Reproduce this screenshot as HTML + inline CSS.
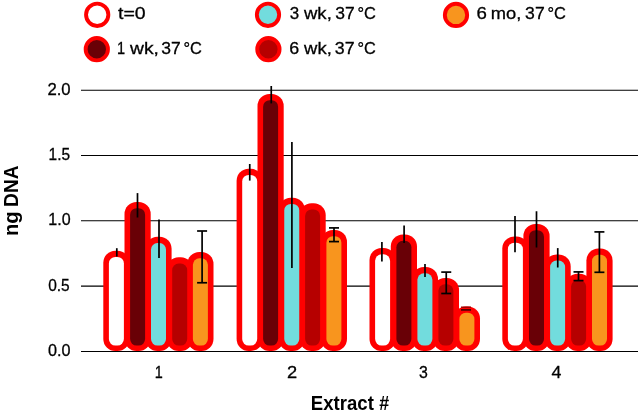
<!DOCTYPE html><html><head><meta charset="utf-8"><title>ng DNA by extract</title><style>
html,body{margin:0;padding:0;background:#fff;width:640px;height:416px;overflow:hidden}
svg{display:block;will-change:transform}
text{font-family:"Liberation Sans",Arial,sans-serif;fill:#000}
</style></head><body>
<svg width="640" height="416" viewBox="0 0 640 416">
<line x1="81" y1="90.3" x2="638" y2="90.3" stroke="#000" stroke-width="1.1"/>
<line x1="81" y1="155.5" x2="638" y2="155.5" stroke="#000" stroke-width="1.1"/>
<line x1="81" y1="220.7" x2="638" y2="220.7" stroke="#000" stroke-width="1.1"/>
<line x1="81" y1="286.1" x2="638" y2="286.1" stroke="#000" stroke-width="1.1"/>
<line x1="81" y1="351.5" x2="638" y2="351.5" stroke="#000" stroke-width="1.1"/>
<rect x="103.30" y="250.70" width="26.20" height="100.30" rx="12.0" ry="12.0" fill="#ff0000"/>
<rect x="124.50" y="202.00" width="26.20" height="149.00" rx="12.0" ry="12.0" fill="#ff0000"/>
<rect x="145.40" y="236.80" width="26.20" height="114.20" rx="12.0" ry="12.0" fill="#ff0000"/>
<rect x="166.60" y="257.30" width="26.20" height="93.70" rx="12.0" ry="12.0" fill="#ff0000"/>
<rect x="187.30" y="252.10" width="26.20" height="98.90" rx="12.0" ry="12.0" fill="#ff0000"/>
<rect x="236.60" y="168.75" width="26.20" height="182.25" rx="12.0" ry="12.0" fill="#ff0000"/>
<rect x="257.50" y="94.00" width="26.20" height="257.00" rx="12.0" ry="12.0" fill="#ff0000"/>
<rect x="278.65" y="197.75" width="26.20" height="153.25" rx="12.0" ry="12.0" fill="#ff0000"/>
<rect x="299.50" y="203.20" width="26.20" height="147.80" rx="12.0" ry="12.0" fill="#ff0000"/>
<rect x="320.80" y="230.00" width="26.20" height="121.00" rx="12.0" ry="12.0" fill="#ff0000"/>
<rect x="369.50" y="248.10" width="26.20" height="102.90" rx="12.0" ry="12.0" fill="#ff0000"/>
<rect x="390.80" y="234.60" width="26.20" height="116.40" rx="12.0" ry="12.0" fill="#ff0000"/>
<rect x="411.80" y="267.10" width="26.20" height="83.90" rx="12.0" ry="12.0" fill="#ff0000"/>
<rect x="432.80" y="278.10" width="26.20" height="72.90" rx="12.0" ry="12.0" fill="#ff0000"/>
<rect x="453.80" y="306.50" width="26.20" height="44.50" rx="12.0" ry="12.0" fill="#ff0000"/>
<rect x="502.30" y="236.50" width="26.20" height="114.50" rx="12.0" ry="12.0" fill="#ff0000"/>
<rect x="523.40" y="224.00" width="26.20" height="127.00" rx="12.0" ry="12.0" fill="#ff0000"/>
<rect x="544.50" y="254.40" width="26.20" height="96.60" rx="12.0" ry="12.0" fill="#ff0000"/>
<rect x="565.50" y="273.80" width="26.20" height="77.20" rx="12.0" ry="12.0" fill="#ff0000"/>
<rect x="586.40" y="248.50" width="26.20" height="102.50" rx="12.0" ry="12.0" fill="#ff0000"/>
<rect x="108.90" y="256.90" width="15.00" height="88.70" rx="6.5" ry="6.5" fill="#ffffff"/>
<rect x="130.10" y="208.20" width="15.00" height="137.40" rx="6.5" ry="6.5" fill="#690006"/>
<rect x="151.00" y="243.00" width="15.00" height="102.60" rx="6.5" ry="6.5" fill="#72dcdd"/>
<rect x="172.20" y="263.50" width="15.00" height="82.10" rx="6.5" ry="6.5" fill="#b60000"/>
<rect x="192.90" y="258.30" width="15.00" height="87.30" rx="6.5" ry="6.5" fill="#f8951e"/>
<rect x="242.20" y="174.95" width="15.00" height="170.65" rx="6.5" ry="6.5" fill="#ffffff"/>
<rect x="263.10" y="100.20" width="15.00" height="245.40" rx="6.5" ry="6.5" fill="#690006"/>
<rect x="284.25" y="203.95" width="15.00" height="141.65" rx="6.5" ry="6.5" fill="#72dcdd"/>
<rect x="305.10" y="209.40" width="15.00" height="136.20" rx="6.5" ry="6.5" fill="#b60000"/>
<rect x="326.40" y="236.20" width="15.00" height="109.40" rx="6.5" ry="6.5" fill="#f8951e"/>
<rect x="375.10" y="254.30" width="15.00" height="91.30" rx="6.5" ry="6.5" fill="#ffffff"/>
<rect x="396.40" y="240.80" width="15.00" height="104.80" rx="6.5" ry="6.5" fill="#690006"/>
<rect x="417.40" y="273.30" width="15.00" height="72.30" rx="6.5" ry="6.5" fill="#72dcdd"/>
<rect x="438.40" y="284.30" width="15.00" height="61.30" rx="6.5" ry="6.5" fill="#b60000"/>
<rect x="459.40" y="312.70" width="15.00" height="32.90" rx="6.5" ry="6.5" fill="#f8951e"/>
<rect x="507.90" y="242.70" width="15.00" height="102.90" rx="6.5" ry="6.5" fill="#ffffff"/>
<rect x="529.00" y="230.20" width="15.00" height="115.40" rx="6.5" ry="6.5" fill="#690006"/>
<rect x="550.10" y="260.60" width="15.00" height="85.00" rx="6.5" ry="6.5" fill="#72dcdd"/>
<rect x="571.10" y="280.00" width="15.00" height="65.60" rx="6.5" ry="6.5" fill="#b60000"/>
<rect x="592.00" y="254.70" width="15.00" height="90.90" rx="6.5" ry="6.5" fill="#f8951e"/>
<line x1="116.8" y1="248.2" x2="116.8" y2="256.5" stroke="#000" stroke-width="1.7"/>
<line x1="137.5" y1="193.1" x2="137.5" y2="217.5" stroke="#000" stroke-width="1.7"/>
<line x1="159.0" y1="219.4" x2="159.0" y2="258.1" stroke="#000" stroke-width="1.7"/>
<line x1="202.1" y1="231.0" x2="202.1" y2="282.75" stroke="#000" stroke-width="1.7"/>
<line x1="197.1" y1="231.0" x2="207.1" y2="231.0" stroke="#000" stroke-width="1.7"/>
<line x1="197.1" y1="282.75" x2="207.1" y2="282.75" stroke="#000" stroke-width="1.7"/>
<line x1="249.75" y1="164.0" x2="249.75" y2="180.6" stroke="#000" stroke-width="1.7"/>
<line x1="271.25" y1="86.0" x2="271.25" y2="103.4" stroke="#000" stroke-width="1.7"/>
<line x1="291.9" y1="142.1" x2="291.9" y2="267.9" stroke="#000" stroke-width="1.7"/>
<line x1="334.0" y1="227.9" x2="334.0" y2="241.6" stroke="#000" stroke-width="1.7"/>
<line x1="329.0" y1="227.9" x2="339.0" y2="227.9" stroke="#000" stroke-width="1.7"/>
<line x1="329.0" y1="241.6" x2="339.0" y2="241.6" stroke="#000" stroke-width="1.7"/>
<line x1="381.9" y1="241.9" x2="381.9" y2="261.5" stroke="#000" stroke-width="1.7"/>
<line x1="404.1" y1="225.6" x2="404.1" y2="243.1" stroke="#000" stroke-width="1.7"/>
<line x1="425.0" y1="264.0" x2="425.0" y2="276.9" stroke="#000" stroke-width="1.7"/>
<line x1="446.25" y1="272.1" x2="446.25" y2="293.5" stroke="#000" stroke-width="1.7"/>
<line x1="441.25" y1="272.1" x2="451.25" y2="272.1" stroke="#000" stroke-width="1.7"/>
<line x1="441.25" y1="293.5" x2="451.25" y2="293.5" stroke="#000" stroke-width="1.7"/>
<line x1="461.0" y1="307.2" x2="471.0" y2="307.2" stroke="#9a0000" stroke-width="1.4"/>
<line x1="461.0" y1="309.9" x2="471.0" y2="309.9" stroke="#4a0000" stroke-width="1.7"/>
<line x1="515.0" y1="216.0" x2="515.0" y2="252.25" stroke="#000" stroke-width="1.7"/>
<line x1="536.5" y1="211.25" x2="536.5" y2="247.5" stroke="#000" stroke-width="1.7"/>
<line x1="557.75" y1="248.1" x2="557.75" y2="267.5" stroke="#000" stroke-width="1.7"/>
<line x1="578.5" y1="271.9" x2="578.5" y2="280.6" stroke="#000" stroke-width="1.7"/>
<line x1="573.5" y1="271.9" x2="583.5" y2="271.9" stroke="#000" stroke-width="1.7"/>
<line x1="573.5" y1="280.6" x2="583.5" y2="280.6" stroke="#000" stroke-width="1.7"/>
<line x1="599.4" y1="231.9" x2="599.4" y2="272.3" stroke="#000" stroke-width="1.7"/>
<line x1="594.4" y1="231.9" x2="604.4" y2="231.9" stroke="#000" stroke-width="1.7"/>
<line x1="594.4" y1="272.3" x2="604.4" y2="272.3" stroke="#000" stroke-width="1.7"/>
<text y="19.40" font-size="17.1" stroke="#000" stroke-width="0.3"><tspan x="118.07" textLength="27.66" lengthAdjust="spacingAndGlyphs">t=0</tspan></text>
<text y="54.40" font-size="17.1" stroke="#000" stroke-width="0.3"><tspan x="116.89" textLength="8.09" lengthAdjust="spacingAndGlyphs">1</tspan> <tspan x="130.00" textLength="28.84" lengthAdjust="spacingAndGlyphs">wk,</tspan> <tspan x="161.20" textLength="19.47" lengthAdjust="spacingAndGlyphs">37</tspan> <tspan x="183.47" textLength="18.43" lengthAdjust="spacingAndGlyphs">°C</tspan></text>
<text y="19.40" font-size="17.1" stroke="#000" stroke-width="0.3"><tspan x="289.63" textLength="9.44" lengthAdjust="spacingAndGlyphs">3</tspan> <tspan x="304.00" textLength="27.77" lengthAdjust="spacingAndGlyphs">wk,</tspan> <tspan x="335.20" textLength="19.47" lengthAdjust="spacingAndGlyphs">37</tspan> <tspan x="357.47" textLength="18.43" lengthAdjust="spacingAndGlyphs">°C</tspan></text>
<text y="54.40" font-size="17.1" stroke="#000" stroke-width="0.3"><tspan x="289.39" textLength="9.92" lengthAdjust="spacingAndGlyphs">6</tspan> <tspan x="304.10" textLength="27.67" lengthAdjust="spacingAndGlyphs">wk,</tspan> <tspan x="334.89" textLength="19.80" lengthAdjust="spacingAndGlyphs">37</tspan> <tspan x="357.48" textLength="18.32" lengthAdjust="spacingAndGlyphs">°C</tspan></text>
<text y="19.40" font-size="17.1" stroke="#000" stroke-width="0.3"><tspan x="476.54" textLength="10.40" lengthAdjust="spacingAndGlyphs">6</tspan> <tspan x="490.75" textLength="30.56" lengthAdjust="spacingAndGlyphs">mo,</tspan> <tspan x="525.10" textLength="19.58" lengthAdjust="spacingAndGlyphs">37</tspan> <tspan x="547.47" textLength="18.43" lengthAdjust="spacingAndGlyphs">°C</tspan></text>
<text y="94.60" font-size="16.9" stroke="#000" stroke-width="0.3"><tspan x="47.40" textLength="23.24" lengthAdjust="spacingAndGlyphs">2.0</tspan></text>
<text y="160.00" font-size="16.9" stroke="#000" stroke-width="0.3"><tspan x="48.61" textLength="21.46" lengthAdjust="spacingAndGlyphs">1.5</tspan></text>
<text y="225.40" font-size="16.9" stroke="#000" stroke-width="0.3"><tspan x="48.32" textLength="22.29" lengthAdjust="spacingAndGlyphs">1.0</tspan></text>
<text y="290.60" font-size="16.9" stroke="#000" stroke-width="0.3"><tspan x="48.13" textLength="21.54" lengthAdjust="spacingAndGlyphs">0.5</tspan></text>
<text y="355.80" font-size="16.9" stroke="#000" stroke-width="0.3"><tspan x="48.11" textLength="22.51" lengthAdjust="spacingAndGlyphs">0.0</tspan></text>
<text y="377.60" font-size="17.0" stroke="#000" stroke-width="0.3"><tspan x="154.81" textLength="8.04" lengthAdjust="spacingAndGlyphs">1</tspan></text>
<text y="377.60" font-size="17.0" stroke="#000" stroke-width="0.3"><tspan x="287.07" textLength="10.16" lengthAdjust="spacingAndGlyphs">2</tspan></text>
<text y="377.60" font-size="17.0" stroke="#000" stroke-width="0.3"><tspan x="418.97" textLength="8.85" lengthAdjust="spacingAndGlyphs">3</tspan></text>
<text y="377.60" font-size="17.0" stroke="#000" stroke-width="0.3"><tspan x="551.60" textLength="9.91" lengthAdjust="spacingAndGlyphs">4</tspan></text>
<text y="409.80" font-size="20.5" font-weight="bold"><tspan x="310.83" textLength="63.03" lengthAdjust="spacingAndGlyphs">Extract</tspan> <tspan x="379.20" textLength="9.90" lengthAdjust="spacingAndGlyphs">#</tspan></text>
<text transform="translate(18.00,0) rotate(-90)" y="0" font-size="20.5" font-weight="bold"><tspan x="-235.98" textLength="24.65" lengthAdjust="spacingAndGlyphs">ng</tspan> <tspan x="-206.91" textLength="41.57" lengthAdjust="spacingAndGlyphs">DNA</tspan></text>
<circle cx="97.2" cy="14.8" r="11.15" fill="#ffffff" stroke="#ff0000" stroke-width="3.9"/>
<circle cx="96.8" cy="49.2" r="11.15" fill="#690006" stroke="#ff0000" stroke-width="3.9"/>
<circle cx="268.0" cy="14.8" r="11.15" fill="#72dcdd" stroke="#ff0000" stroke-width="3.9"/>
<circle cx="268.4" cy="49.2" r="11.15" fill="#b60000" stroke="#ff0000" stroke-width="3.9"/>
<circle cx="456.0" cy="14.9" r="11.15" fill="#f8951e" stroke="#ff0000" stroke-width="3.9"/>
</svg></body></html>
